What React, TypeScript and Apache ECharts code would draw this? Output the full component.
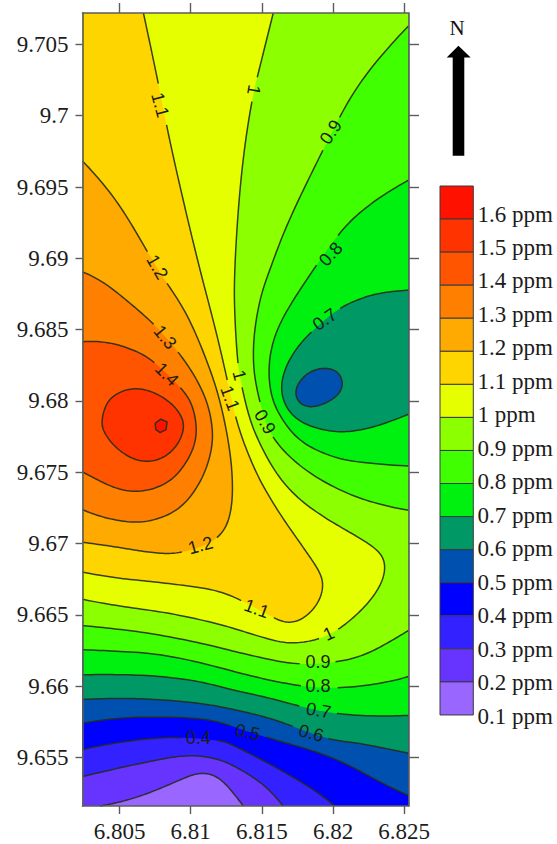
import React, { useEffect, useRef } from "react";
import * as echarts from "echarts";

const XMIN = 6.8024, XMAX = 6.8253, YMIN = 9.6516, YMAX = 9.7072;
const xTicks = [6.805, 6.81, 6.815, 6.82, 6.825];
const yTicks = [9.655, 9.66, 9.665, 9.67, 9.675, 9.68, 9.685, 9.69, 9.695, 9.7, 9.705];

const legendLabels = ["1.6 ppm","1.5 ppm","1.4 ppm","1.3 ppm","1.2 ppm","1.1 ppm","1 ppm","0.9 ppm","0.8 ppm","0.7 ppm","0.6 ppm","0.5 ppm","0.4 ppm","0.3 ppm","0.2 ppm","0.1 ppm"];
const legendColors = ["#FF1100","#FF3300","#FF5500","#FF8000","#FFAA00","#FFD500","#E6FF00","#8CFF00","#40FF00","#00F010","#009966","#0050B0","#0000FF","#3322FF","#6633FF","#9966FF"];

const L02 = [[6.80364,9.6516],[6.80551,9.65198],[6.80785,9.65281],[6.80995,9.65374],[6.81089,9.6539],[6.81183,9.65367],[6.81276,9.65281],[6.81369,9.6516]];
const L03 = [[6.8024,9.65367],[6.80575,9.65444],[6.80808,9.65491],[6.80972,9.65514],[6.81136,9.65502],[6.81276,9.65456],[6.81439,9.65362],[6.81556,9.65269],[6.8165,9.6516]];
const L04 = [[6.8024,9.65556],[6.80434,9.65596],[6.80692,9.65631],[6.80925,9.65642],[6.81194,9.65619],[6.81276,9.65596],[6.81509,9.65479],[6.8172,9.65362],[6.81907,9.65245],[6.82012,9.6516]];
const L05 = [[6.8024,9.65741],[6.80504,9.65779],[6.80808,9.65783],[6.81089,9.65772],[6.81276,9.65725],[6.81521,9.65642],[6.8186,9.65549],[6.82117,9.65444],[6.82328,9.65327],[6.8253,9.65233]];
const L06S = [[6.8024,9.65907],[6.80504,9.65916],[6.80808,9.65905],[6.81089,9.65877],[6.81276,9.65842],[6.81533,9.65783],[6.81732,9.65713],[6.81977,9.65626],[6.8214,9.65607],[6.82328,9.65572],[6.8253,9.6553]];
const L06N = [[6.81732,9.68063],[6.81779,9.68157],[6.8186,9.68215],[6.81954,9.68231],[6.82035,9.68203],[6.8207,9.68122],[6.82035,9.6804],[6.81942,9.67982],[6.81849,9.67956],[6.81767,9.67982]];
const L07S = [[6.8024,9.6608],[6.80504,9.66082],[6.80808,9.66068],[6.81089,9.66028],[6.81276,9.65977],[6.81533,9.65923],[6.8179,9.65853],[6.82024,9.65807],[6.82281,9.6579],[6.8253,9.65795]];
const L07N = [[6.8253,9.68777],[6.82328,9.68758],[6.82164,9.68706],[6.82024,9.68636],[6.8186,9.68496],[6.81732,9.68356],[6.8165,9.68192],[6.81638,9.68052],[6.81685,9.67935],[6.8179,9.67841],[6.81977,9.67787],[6.8214,9.67787],[6.82328,9.67829],[6.8253,9.67907]];
const L08S = [[6.8024,9.66256],[6.80504,9.66244],[6.80855,9.66216],[6.81276,9.6611],[6.81509,9.66052],[6.81779,9.66],[6.82024,9.65986],[6.82328,9.66017],[6.8253,9.66068]];
const L08N = [[6.8253,9.69548],[6.82351,9.69443],[6.82211,9.69338],[6.82059,9.69198],[6.8186,9.68917],[6.8172,9.68706],[6.81603,9.68496],[6.81551,9.68285],[6.81556,9.68098],[6.81603,9.67935],[6.81744,9.67736],[6.8193,9.67635],[6.8214,9.67572],[6.8253,9.67544]];
const L09S = [[6.8024,9.66426],[6.80457,9.66403],[6.80738,9.66368],[6.81089,9.66298],[6.81276,9.66251],[6.8158,9.66181],[6.81779,9.66153],[6.82024,9.66169],[6.82211,9.66216],[6.82375,9.66298],[6.8253,9.66391]];
const L09N = [[6.8253,9.70629],[6.82351,9.70437],[6.82187,9.70227],[6.82059,9.70016],[6.8193,9.69759],[6.8179,9.69478],[6.8165,9.69174],[6.81556,9.68917],[6.81498,9.68756],[6.81451,9.68519],[6.81439,9.68309],[6.81456,9.68122],[6.81521,9.67864],[6.81591,9.67724],[6.81744,9.67561],[6.81977,9.67408],[6.82258,9.67291],[6.8253,9.67233]];
const L10 = [[6.8158,9.7072],[6.81463,9.7025],[6.81432,9.7011],[6.81358,9.69642],[6.81311,9.68987],[6.81307,9.68685],[6.81318,9.68449],[6.81334,9.68238],[6.81358,9.6811],[6.81416,9.67864],[6.81509,9.67654],[6.8165,9.6742],[6.8186,9.67233],[6.82094,9.67093],[6.82211,9.67023],[6.82328,9.6694],[6.82368,9.66835],[6.82328,9.66695],[6.82211,9.66543],[6.82047,9.66403],[6.81907,9.66333],[6.8172,9.66298],[6.81533,9.66333],[6.81276,9.66414],[6.81089,9.66461],[6.80808,9.6652],[6.80504,9.6656],[6.8024,9.66609]];
const L11 = [[6.80668,9.7072],[6.80773,9.70227],[6.80825,9.69957],[6.80925,9.69501],[6.81065,9.68917],[6.81159,9.68566],[6.81253,9.68168],[6.81314,9.67888],[6.81393,9.67654],[6.81509,9.67396],[6.81673,9.6714],[6.81746,9.67037],[6.81837,9.66905],[6.81919,9.66777],[6.81926,9.66672],[6.81884,9.66567],[6.8179,9.66473],[6.81685,9.66445],[6.8158,9.6648],[6.81369,9.66595],[6.81183,9.66672],[6.80948,9.66707],[6.80692,9.66737],[6.80457,9.66761],[6.8024,9.668]];
const L12 = [[6.8024,9.69682],[6.80364,9.69548],[6.80525,9.69338],[6.80701,9.69036],[6.80832,9.68824],[6.80972,9.68615],[6.81112,9.68285],[6.81206,9.68005],[6.81276,9.67654],[6.81295,9.67396],[6.81276,9.67186],[6.81183,9.67023],[6.80948,9.66938],[6.80785,9.66931],[6.80622,9.66952],[6.80434,9.66983],[6.8024,9.67009]];
const L13 = [[6.8024,9.68905],[6.80387,9.68835],[6.80575,9.68683],[6.80738,9.68543],[6.80902,9.68356],[6.81018,9.68192],[6.81112,9.68005],[6.81152,9.67817],[6.81147,9.67654],[6.81077,9.67444],[6.80948,9.67268],[6.80808,9.67186],[6.80645,9.67147],[6.80481,9.67163],[6.80341,9.67198],[6.8024,9.67238]];
const L14 = [[6.8024,9.68414],[6.80317,9.68419],[6.80457,9.68403],[6.80598,9.68356],[6.80738,9.68281],[6.80925,9.68098],[6.81007,9.67982],[6.81042,9.67817],[6.81023,9.67677],[6.80948,9.67537],[6.80832,9.6742],[6.80645,9.67361],[6.80481,9.67385],[6.80352,9.67444],[6.8024,9.67502]];
const L15 = [[6.80376,9.67864],[6.80411,9.67993],[6.80504,9.68063],[6.8061,9.68089],[6.80738,9.68063],[6.80867,9.67982],[6.80937,9.67888],[6.80951,9.67806],[6.80913,9.67701],[6.8082,9.67607],[6.80692,9.67572],[6.80563,9.67607],[6.80446,9.67701],[6.80387,9.67794]];
const L16 = [[6.8075,9.67843],[6.8079,9.67872],[6.80834,9.67853],[6.80827,9.67799],[6.80785,9.67778],[6.80755,9.67799],[6.8075,9.67843]];

// contour labels: x, y, text, rotation in degrees
const labelX = [6.80785,6.81444,6.81984,6.81984,6.80764,6.8082,6.80832,6.81942,6.81342,6.81276,6.81521,6.81069,6.81463,6.8197,6.81895,6.81895,6.81898,6.81846,6.814,6.81053];
const labelY = [9.70075,9.7018,9.69885,9.69029,9.68938,9.68447,9.68187,9.68571,9.6818,9.68019,9.67853,9.66987,9.66543,9.66368,9.66167,9.66,9.6583,9.65671,9.65678,9.65635];
const labelText = ["1.1","1","0.9","0.8","1.2","1.3","1.4","0.7","1","1.1","0.9","1.2","1.1","1","0.9","0.8","0.7","0.6","0.5","0.4"];
const labelRot = [-75,-100,57,48,-60,-50,-45,35,-75,-70,-60,15,-20,25,0,0,-10,-15,-12,0];

const BL = [XMIN, YMIN], BR = [XMAX, YMIN], TR = [XMAX, YMAX], TL = [XMIN, YMAX];
const rev = (a: number[][]) => [...a].reverse();

type Seg = { pts: number[][]; smooth: boolean; closed?: boolean };
const S = (pts: number[][], closed = false): Seg => ({ pts, smooth: true, closed });
const C = (...pts: number[][]): Seg => ({ pts, smooth: false });

// painted lowest first
const fills: { color: string; segs: Seg[] }[] = [
  { color: legendColors[15], segs: [C(BL, BR, TR, TL)] },
  { color: legendColors[14], segs: [S(L02), C(BR, TR, TL, BL)] },
  { color: legendColors[13], segs: [S(L03), C(BR, TR, TL)] },
  { color: legendColors[12], segs: [S(L04), C(BR, TR, TL)] },
  { color: legendColors[11], segs: [S(L05), C(TR, TL)] },
  { color: legendColors[10], segs: [S(L06S), C(TR, TL)] },
  { color: legendColors[11], segs: [S(L06N, true)] },
  { color: legendColors[9], segs: [S(L07S), S(rev(L07N)), C(TR, TL)] },
  { color: legendColors[8], segs: [S(L08S), S(rev(L08N)), C(TR, TL)] },
  { color: legendColors[7], segs: [S(L09S), S(rev(L09N)), C(TR, TL)] },
  { color: legendColors[6], segs: [S(L10), C(TL)] },
  { color: legendColors[5], segs: [S(L11), C(TL)] },
  { color: legendColors[4], segs: [S(L12)] },
  { color: legendColors[3], segs: [S(L13)] },
  { color: legendColors[2], segs: [S(L14)] },
  { color: legendColors[1], segs: [S(L15, true)] },
  { color: legendColors[0], segs: [C(...L16)] },
];

const lines: { level: string; pts: number[][]; closed?: boolean; straight?: boolean }[] = [
  { level: "0.2", pts: L02 }, { level: "0.3", pts: L03 }, { level: "0.4", pts: L04 }, { level: "0.5", pts: L05 },
  { level: "0.6", pts: L06S }, { level: "0.6n", pts: L06N, closed: true }, { level: "0.7", pts: L07S }, { level: "0.7", pts: L07N },
  { level: "0.8", pts: L08S }, { level: "0.8", pts: L08N }, { level: "0.9", pts: L09S }, { level: "0.9", pts: L09N },
  { level: "1", pts: L10 }, { level: "1.1", pts: L11 }, { level: "1.2", pts: L12 }, { level: "1.3", pts: L13 },
  { level: "1.4", pts: L14 }, { level: "1.5", pts: L15, closed: true }, { level: "1.6", pts: L16, straight: true },
];

// Turns the read-off vertices of a contour into a smooth outline for drawing.
function densify(p: number[][], closed = false, steps = 10, half = 6): number[][] {
  const n = p.length;
  const raw: number[][] = [];
  const at = (i: number) => (closed ? p[(i + n) % n] : p[Math.max(0, Math.min(n - 1, i))]);
  const last = closed ? n : n - 1;
  for (let i = 0; i < last; i++) {
    const a = at(i - 1), b = at(i), c = at(i + 1), d = at(i + 2);
    for (let k = 0; k < steps; k++) {
      const t = k / steps, t2 = t * t, t3 = t2 * t;
      raw.push([0, 1].map((j) =>
        0.5 * (2 * b[j] + (c[j] - a[j]) * t + (2 * a[j] - 5 * b[j] + 4 * c[j] - d[j]) * t2 + (3 * b[j] - a[j] - 3 * c[j] + d[j]) * t3)));
    }
  }
  if (!closed) raw.push(at(n - 1));
  const m = raw.length;
  const out = raw.map((_, i) => {
    const h = closed ? half : Math.min(half, i, m - 1 - i);
    let sx = 0, sy = 0;
    for (let k = -h; k <= h; k++) {
      const q = raw[(i + k + m) % m];
      sx += q[0]; sy += q[1];
    }
    return [sx / (2 * h + 1), sy / (2 * h + 1)];
  });
  if (closed) out.push(out[0]);
  return out;
}

const serif = "'Liberation Serif'";
const axisGray = "#5c5c5c";

export default function App() {
  const ref = useRef<HTMLDivElement>(null);
  useEffect(() => {
    const chart = echarts.init(ref.current!, undefined, { renderer: "svg" });
    const project = (api: any, params: any, pts: number[][]) => {
      const cs = params.coordSys;
      return pts.map((q) => {
        const c = api.coord(q);
        return [Math.max(cs.x, Math.min(cs.x + cs.width, c[0])), Math.max(cs.y, Math.min(cs.y + cs.height, c[1]))];
      });
    };
    const axisCommon = {
      type: "value" as const,
      z: 5,
      splitLine: { show: false },
      axisLine: { show: true, lineStyle: { color: axisGray, width: 1.6 } },
    };
    const tick = (customValues: number[], length: number) => ({
      show: true, inside: false, length, customValues, lineStyle: { color: axisGray, width: 1.4 },
    });
    const option: any = {
      animation: false,
      backgroundColor: "#fff",
      grid: { left: 82.5, right: 557 - 408.5, top: 13, bottom: 844 - 806 },
      xAxis: [
        { ...axisCommon, position: "bottom", min: XMIN, max: XMAX, axisTick: tick(xTicks, 8),
          axisLabel: { customValues: xTicks, margin: 14, fontFamily: serif, fontSize: 23, color: "#1c1c1c", hideOverlap: false, showMinLabel: true, showMaxLabel: true } },
        { ...axisCommon, position: "top", min: XMIN, max: XMAX, axisTick: tick(xTicks, 10), axisLabel: { show: false } },
      ],
      yAxis: [
        { ...axisCommon, position: "left", min: YMIN, max: YMAX, axisTick: tick(yTicks, 7),
          axisLabel: { customValues: yTicks, margin: 14, fontFamily: serif, fontSize: 23, color: "#1c1c1c", hideOverlap: false } },
        { ...axisCommon, position: "right", min: YMIN, max: YMAX, axisTick: tick(yTicks, 10.5), axisLabel: { show: false } },
      ],
      series: [
        {
          type: "custom", coordinateSystem: "cartesian2d", xAxisIndex: 0, yAxisIndex: 0, z: 2, silent: true,
          data: fills.map((f, i) => [f.segs[0].pts[0][0], f.segs[0].pts[0][1], i]),
          encode: { x: 0, y: 1 },
          renderItem: (params: any, api: any) => {
            const f = fills[api.value(2)];
            const pts: number[][] = [];
            f.segs.forEach((s) => {
              const ds = s.smooth ? densify(s.pts, s.closed) : s.pts;
              pts.push(...project(api, params, ds));
            });
            return { type: "polygon", shape: { points: pts }, style: { fill: f.color, stroke: "none" } };
          },
        },
        {
          type: "custom", coordinateSystem: "cartesian2d", xAxisIndex: 0, yAxisIndex: 0, z: 3, silent: true,
          data: lines.map((l, i) => [l.pts[0][0], l.pts[0][1], i]),
          encode: { x: 0, y: 1 },
          renderItem: (params: any, api: any) => {
            const l = lines[api.value(2)];
            const pts = project(api, params, l.straight ? l.pts : densify(l.pts, l.closed));
            const gaps = labelText
              .map((t, i) => ({ t, i }))
              .filter((o) => o.t === l.level)
              .map((o) => ({ c: api.coord([labelX[o.i], labelY[o.i]]), r: o.t.length === 1 ? 10 : 17 }));
            const runs: number[][][] = [[]];
            pts.forEach((q) => {
              const hit = gaps.some((g) => Math.hypot(q[0] - g.c[0], q[1] - g.c[1]) < g.r);
              if (hit) { if (runs[runs.length - 1].length) runs.push([]); }
              else runs[runs.length - 1].push(q);
            });
            return {
              type: "group",
              children: runs.filter((r) => r.length > 1).map((r) => ({
                type: "polyline", shape: { points: r }, style: { fill: "none", stroke: "#262c18", lineWidth: 1.5, opacity: 0.9 },
              })),
            };
          },
        },
        {
          type: "custom", coordinateSystem: "cartesian2d", xAxisIndex: 0, yAxisIndex: 0, z: 4, silent: true,
          data: labelText.map((_, i) => [labelX[i], labelY[i], i]),
          encode: { x: 0, y: 1 },
          renderItem: (_p: any, api: any) => {
            const i = api.value(2);
            const c = api.coord([labelX[i], labelY[i]]);
            return {
              type: "text", x: c[0], y: c[1], rotation: (labelRot[i] * Math.PI) / 180,
              style: { text: labelText[i], fontFamily: "'Liberation Sans'", fontSize: 18, fill: "#1a1f14", align: "center", verticalAlign: "middle" },
            };
          },
        },
      ],
      graphic: [
        { type: "text", x: 457, y: 28, style: { text: "N", fontFamily: serif, fontSize: 21, fill: "#111", align: "center", verticalAlign: "middle" } },
        { type: "polygon", shape: { points: [[458.4, 45.7], [470.7, 57.5], [464.3, 57.5], [464.3, 155.7], [452.7, 155.7], [452.7, 57.5], [446.7, 57.5]] }, style: { fill: "#000" } },
        ...legendColors.map((color, i) => ({
          type: "rect", shape: { x: 440, y: 186 + i * 33.06, width: 33.3, height: 33.06 },
          style: { fill: color, stroke: "#3a3a3a", lineWidth: 1 },
        })),
        ...legendLabels.map((text, i) => ({
          type: "text", x: 477.5, y: 214 + i * 33.47,
          style: { text, fontFamily: serif, fontSize: 23, fill: "#1c1c1c", align: "left", verticalAlign: "middle" },
        })),
      ],
    };
    chart.setOption(option);
    return () => chart.dispose();
  }, []);
  return <div ref={ref} style={{ position: "absolute", left: 0, top: 0, width: 557, height: 844 }} />;
}
